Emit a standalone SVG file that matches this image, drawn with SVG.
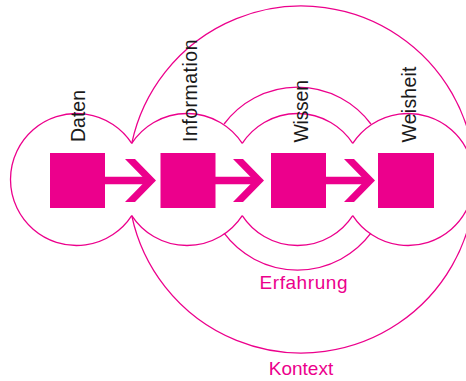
<svg xmlns="http://www.w3.org/2000/svg" xmlns:xlink="http://www.w3.org/1999/xlink" width="466" height="381" viewBox="0 0 466 381">
  <style>
    .ring { fill: none; stroke: #EC008C; stroke-width: 1.3; }
    .box { fill: #EC008C; }
    .lbl { font-family: "Liberation Sans", Arial, sans-serif; font-size: 19.5px; fill: #1a1a1a; }
    .mlbl { font-family: "Liberation Sans", Arial, sans-serif; font-size: 19px; fill: #EC008C; text-anchor: middle; }
  </style>
  <defs>
    <g id="arrow" class="box">
      <rect x="-20" y="-3.75" width="44" height="7.5"/>
      <polygon points="0,-21.5 10,-21.5 31,0 10,21.5 0,21.5 21,0"/>
    </g>
  </defs>
  <rect width="466" height="381" fill="#ffffff"/>

  <g id="kontext">
    <path class="ring" d="M131.75,143.4 A173.5,173.5 0 1 1 131.75,215.6"/>
    <text class="mlbl" x="301" y="375">Kontext</text>
  </g>

  <g id="erfahrung">
    <path class="ring" d="M224.1,124 A91.5,91.5 0 0 1 370.9,124"/>
    <path class="ring" d="M370.9,233.2 A91.5,91.5 0 0 1 224.1,233.2"/>
    <text class="mlbl" x="303.5" y="289" textLength="88">Erfahrung</text>
  </g>

  <g id="daten">
    <path class="ring" d="M131.75,215.6 A66,66 0 1 1 131.75,143.4"/>
    <rect class="box" x="50" y="153" width="55" height="55"/>
    <text class="lbl" transform="translate(85,142) rotate(-90)" textLength="52">Daten</text>
  </g>

  <g id="information">
    <path class="ring" d="M131.75,143.4 A66,66 0 0 1 242.25,143.4"/>
    <path class="ring" d="M242.25,215.6 A66,66 0 0 1 131.75,215.6"/>
    <rect class="box" x="160.5" y="153" width="55" height="55"/>
    <text class="lbl" transform="translate(196.5,142) rotate(-90)" textLength="102.5">Information</text>
  </g>

  <g id="wissen">
    <path class="ring" d="M242.25,143.4 A66,66 0 0 1 352.75,143.4"/>
    <path class="ring" d="M352.75,215.6 A66,66 0 0 1 242.25,215.6"/>
    <rect class="box" x="271" y="153" width="55" height="55"/>
    <text class="lbl" transform="translate(307.5,142.5) rotate(-90)" textLength="62.5">Wissen</text>
  </g>

  <g id="weisheit">
    <path class="ring" d="M352.75,143.4 A66,66 0 1 1 352.75,215.6"/>
    <rect class="box" x="378" y="153" width="56" height="55"/>
    <text class="lbl" transform="translate(416,142.5) rotate(-90)" textLength="76">Weisheit</text>
  </g>

  <g id="connectors">
    <use xlink:href="#arrow" transform="translate(125,180.5)"/>
    <use xlink:href="#arrow" transform="translate(233,180.5)"/>
    <use xlink:href="#arrow" transform="translate(344,180.5)"/>
  </g>
</svg>
